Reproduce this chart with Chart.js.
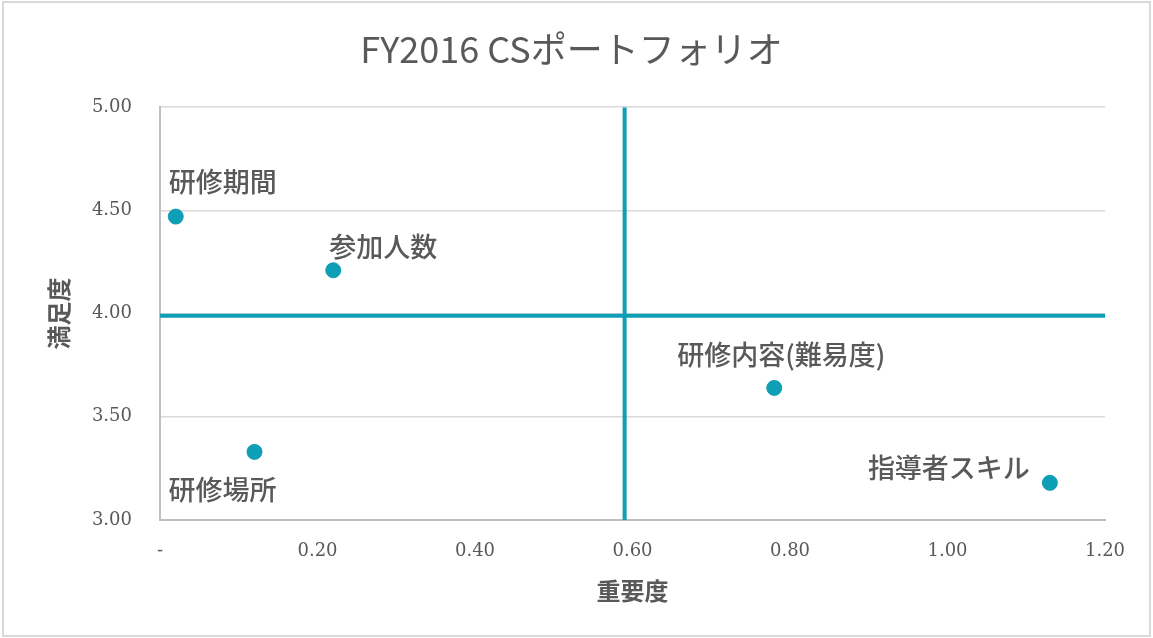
<!DOCTYPE html>
<html>
<head>
<meta charset="utf-8">
<script src="https://cdn.jsdelivr.net/npm/chart.js@4.4.1/dist/chart.umd.min.js"></script>
<style>
  html, body { margin: 0; padding: 0; background: #fff; }
  #wrap { width: 1153px; height: 638px; }
</style>
</head>
<body>
<div id="wrap"><canvas id="csChart" width="1153" height="638"></canvas></div>
<script>
// items and their scores
var items = ['研修期間', '参加人数', '研修場所', '研修内容(難易度)', '指導者スキル'];
var importance = [0.02, 0.22, 0.12, 0.78, 1.13];
var satisfaction = [4.47, 4.21, 3.33, 3.64, 3.18];

// quadrant dividers (average values)
var avgImportance = 0.59;
var avgSatisfaction = 3.99;

// label placement relative to its point (px)
var labelOffsets = [[-7, -35], [-4, -24], [-86, 38], [-97, -33], [-182, -15]];

var teal = '#0E9FB6';
var textGray = '#595959';

var points = items.map(function (name, i) {
    return { x: importance[i], y: satisfaction[i] };
});

var borderPlugin = {
    id: 'outerBorder',
    beforeDraw: function (chart) {
        var ctx = chart.ctx;
        ctx.save();
        ctx.fillStyle = '#fff';
        ctx.fillRect(0, 0, chart.width, chart.height);
        ctx.strokeStyle = '#D9D9D9';
        ctx.lineWidth = 2;
        ctx.strokeRect(3, 2, chart.width - 6, chart.height - 4);
        ctx.restore();
    }
};

var labelPlugin = {
    id: 'pointLabels',
    afterDatasetsDraw: function (chart) {
        var ctx = chart.ctx;
        var meta = chart.getDatasetMeta(2);
        ctx.save();
        ctx.font = '500 27px "Noto Sans CJK JP"';
        ctx.fillStyle = textGray;
        ctx.textAlign = 'left';
        ctx.textBaseline = 'middle';
        meta.data.forEach(function (el, i) {
            ctx.fillText(items[i], el.x + labelOffsets[i][0], el.y + labelOffsets[i][1]);
        });
        ctx.restore();
    }
};

var ctx = document.getElementById('csChart').getContext('2d');

var chart = new Chart(ctx, {
    type: 'scatter',
    data: {
        datasets: [{
            label: 'h',
            data: [{ x: 0, y: avgSatisfaction }, { x: 1.2, y: avgSatisfaction }],
            showLine: true,
            borderColor: teal,
            borderWidth: 4,
            pointRadius: 0,
            clip: false
        }, {
            label: 'v',
            data: [{ x: avgImportance, y: 3 }, { x: avgImportance, y: 5 }],
            showLine: true,
            borderColor: teal,
            borderWidth: 4,
            pointRadius: 0
        }, {
            label: 'CS',
            data: points,
            backgroundColor: teal,
            borderColor: teal,
            pointRadius: 7.5,
            pointHoverRadius: 7.5
        }]
    },
    options: {
        responsive: false,
        animation: false,
        layout: {
            padding: { left: 38, right: 48, top: 10, bottom: 10 }
        },
        plugins: {
            legend: { display: false },
            tooltip: { enabled: false },
            title: {
                display: true,
                text: 'FY2016 CSポートフォリオ',
                color: textGray,
                font: { family: '"Noto Sans CJK JP"', size: 36, weight: 'normal' },
                padding: { top: 18, bottom: 36 }
            }
        },
        scales: {
            x: {
                type: 'linear',
                min: 0,
                max: 1.2,
                afterFit: function (scale) { scale.height = 108; },
                grid: { display: false, drawTicks: false },
                border: { display: true, color: '#BFBFBF', width: 2 },
                ticks: {
                    stepSize: 0.2,
                    padding: 21,
                    color: textGray,
                    font: { family: '"DejaVu Serif"', size: 18 },
                    callback: function (v) { return v === 0 ? '-' : v.toFixed(2); }
                },
                title: {
                    display: true,
                    text: '重要度',
                    color: textGray,
                    font: { family: '"Noto Sans CJK JP"', size: 24, weight: 'bold' },
                    padding: { top: 0, bottom: 23 }
                }
            },
            y: {
                min: 3,
                max: 5,
                afterFit: function (scale) { scale.width = 122; },
                grid: { color: '#D9D9D9', lineWidth: 1.5, drawTicks: false },
                border: { display: true, color: '#BFBFBF', width: 2 },
                ticks: {
                    stepSize: 0.5,
                    padding: 28,
                    color: textGray,
                    font: { family: '"DejaVu Serif"', size: 18 },
                    callback: function (v) { return v.toFixed(2); }
                },
                title: {
                    display: true,
                    text: '満足度',
                    color: textGray,
                    font: { family: '"Noto Sans CJK JP"', size: 24, weight: 'bold' },
                    padding: { top: 6, bottom: 0 }
                }
            }
        }
    },
    plugins: [borderPlugin, labelPlugin]
});
</script>
</body>
</html>
